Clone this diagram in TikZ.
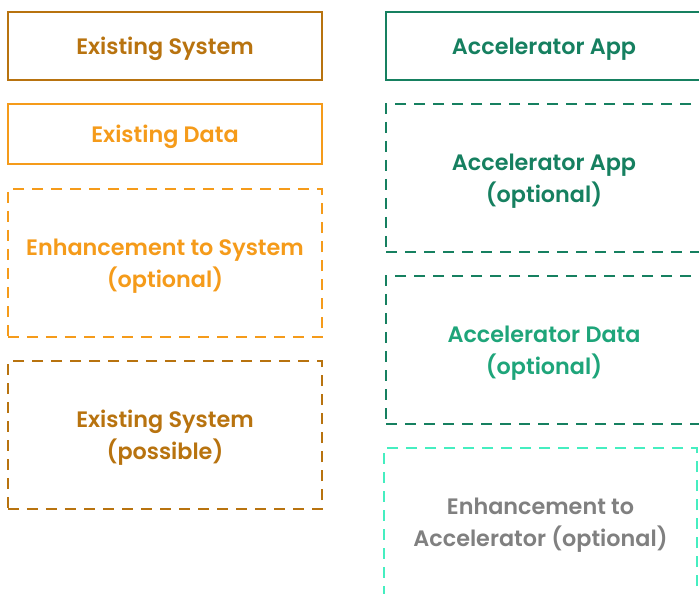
\documentclass[tikz,border=0pt]{standalone}
\usepackage{fontspec}
\setmainfont{Poppins}[UprightFont=* SemiBold]
\definecolor{dorange}{HTML}{B8730F}
\definecolor{lorange}{HTML}{F59B1A}
\definecolor{dgreen}{HTML}{168060}
\definecolor{mgreen}{HTML}{1EA57A}
\definecolor{teal2}{HTML}{45EEC0}
\definecolor{gtext}{HTML}{808080}
\tikzset{
  box/.style={draw, line width=2.8bp, inner sep=0pt, outer sep=0pt},
  lbl/.style={inner sep=0pt, align=center, yshift=-3bp,
    font=\fontsize{22.4}{32}\selectfont},
  dsh/.style={dash pattern=on 11bp off 8bp},
}
\begin{document}
\begin{tikzpicture}[x=1bp,y=-1bp]
\useasboundingbox (0,0) rectangle (699,594);
\clip (0,0) rectangle (699,594);
\fill[white] (0,0) rectangle (699,594);
\node[box, draw=dorange, minimum width=314bp, minimum height=68bp] (es) at (165,46) {};
\node[lbl, text=dorange] (es-t) at (es.center) {Existing System};
\node[box, draw=lorange, minimum width=314bp, minimum height=60bp] (ed) at (165,134) {};
\node[lbl, text=lorange] (ed-t) at (ed.center) {Existing Data};
\node[box, dsh, draw=lorange, minimum width=314bp, minimum height=148bp] (enh) at (165,263) {};
\node[lbl, text=lorange] (enh-t) at (enh.center) {Enhancement to System\\(optional)};
\node[box, dsh, draw=dorange, minimum width=314bp, minimum height=148bp] (esp) at (165,435) {};
\node[lbl, text=dorange] (esp-t) at (esp.center) {Existing System\\(possible)};
\node[box, draw=dgreen, minimum width=316bp, minimum height=68bp] (aa) at (544,46) {};
\node[lbl, text=dgreen] (aa-t) at (aa.center) {Accelerator App};
\node[box, dsh, draw=dgreen, minimum width=316bp, minimum height=148bp] (aao) at (544,178) {};
\node[lbl, text=dgreen] (aao-t) at (aao.center) {Accelerator App\\(optional)};
\node[box, dsh, draw=dgreen, minimum width=316bp, minimum height=148bp] (ado) at (544,350) {};
\node[lbl, text=mgreen] (ado-t) at (ado.center) {Accelerator Data\\(optional)};
\node[box, dsh, draw=teal2, minimum width=313bp, minimum height=148bp] (ea) at (540.5,522) {};
\node[lbl, text=gtext] (ea-t) at (ea.center) {Enhancement to\\Accelerator (optional)};
\end{tikzpicture}
\end{document}
